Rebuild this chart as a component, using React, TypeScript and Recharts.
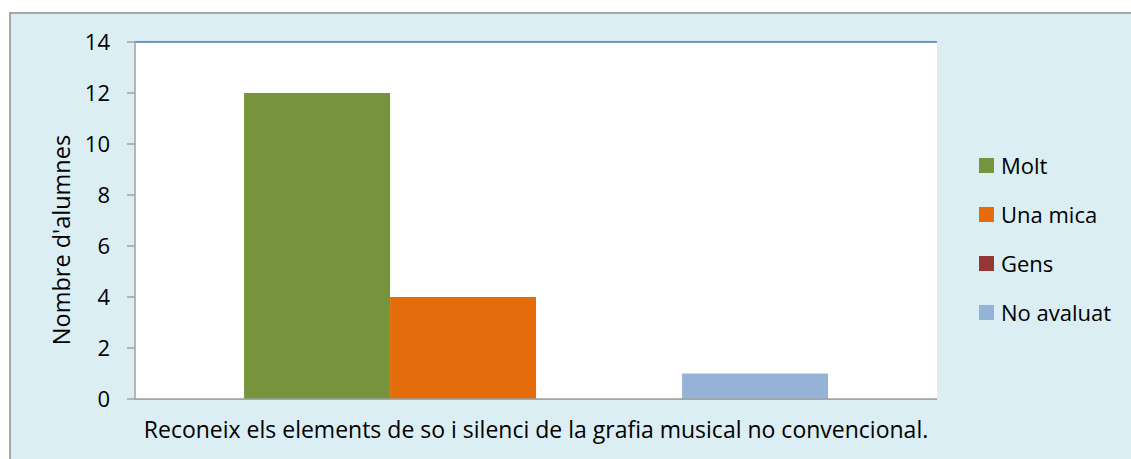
import { BarChart, Bar, XAxis, YAxis, CartesianGrid, ReferenceLine } from "recharts";

const categories = ["Reconeix els elements de so i silenci de la grafia musical no convencional."];
const molt = [12];
const unaMica = [4];
const gens = [0];
const noAvaluat = [1];
const yTicks = [0, 2, 4, 6, 8, 10, 12, 14];

const SERIES = [
  { key: "molt", name: "Molt", color: "#77933C" },
  { key: "unaMica", name: "Una mica", color: "#E46C0A" },
  { key: "gens", name: "Gens", color: "#953735" },
  { key: "noAvaluat", name: "No avaluat", color: "#95B3D7" },
];

const data = categories.map((c, i) => ({
  cat: c,
  molt: molt[i],
  unaMica: unaMica[i],
  gens: gens[i],
  noAvaluat: noAvaluat[i],
}));

const FONT = "'Open Sans', 'Noto Sans', sans-serif";

// y axis title, centred where the reference has it
const YTitle = () => (
  <text
    transform="translate(70, 240) rotate(-90)"
    textAnchor="middle"
    fontSize={23.5}
    fontFamily={FONT}
    fill="#000"
  >
    Nombre d'alumnes
  </text>
);

export default function App() {
  return (
    <div style={{ position: "absolute", left: 0, top: 0, width: 1131, height: 459, background: "#fff", overflow: "hidden", fontFamily: FONT }}>
      <div style={{ position: "absolute", left: 9, top: 12, width: 1130, height: 460, background: "#DBEEF4", border: "2px solid #A6A6A6" }} />
      <div style={{ position: "absolute", left: 0, top: 0 }}>
        <BarChart
          width={1131}
          height={459}
          data={data}
          margin={{ top: 42, right: 194, left: 0, bottom: 0 }}
          barCategoryGap="13.6%"
          barGap={0}
        >
          <rect x={135} y={42} width={802} height={357} fill="#fff" />
          <CartesianGrid vertical={false} stroke="#A0A0A0" strokeWidth={1.5} />
          <XAxis
            dataKey="cat"
            height={60}
            axisLine={{ stroke: "#A0A0A0", strokeWidth: 1.5 }}
            tickLine={false}
            tick={{ fill: "#000", fontSize: 23, fontFamily: FONT }}
            tickMargin={17}
            interval={0}
          />
          <YAxis
            domain={[0, 14]}
            ticks={yTicks}
            width={135}
            axisLine={{ stroke: "#A0A0A0", strokeWidth: 1.5 }}
            tickLine={{ stroke: "#A0A0A0", strokeWidth: 1.5 }}
            tickSize={8}
            tickMargin={17}
            tick={{ fill: "#000", fontSize: 22, fontFamily: FONT }}
            label={{ content: <YTitle /> }}
          />
          <YAxis
            yAxisId="right"
            orientation="right"
            domain={[0, 14]}
            width={0}
            tick={false}
            tickLine={false}
            axisLine={{ stroke: "#4F81BD", strokeWidth: 1.5 }}
          />
          <ReferenceLine y={14} stroke="#4F81BD" strokeWidth={1.5} />
          {SERIES.map((s) => (
            <Bar key={s.key} dataKey={s.key} name={s.name} fill={s.color} isAnimationActive={false} />
          ))}
        </BarChart>
      </div>
      {SERIES.map((s, i) => (
        <div
          key={s.key}
          style={{ position: "absolute", left: 979, top: 151 + i * 49, height: 28, display: "flex", alignItems: "center", fontSize: 22, color: "#000" }}
        >
          <span style={{ display: "inline-block", width: 15, height: 15, background: s.color, marginRight: 7 }} />
          {s.name}
        </div>
      ))}
    </div>
  );
}
